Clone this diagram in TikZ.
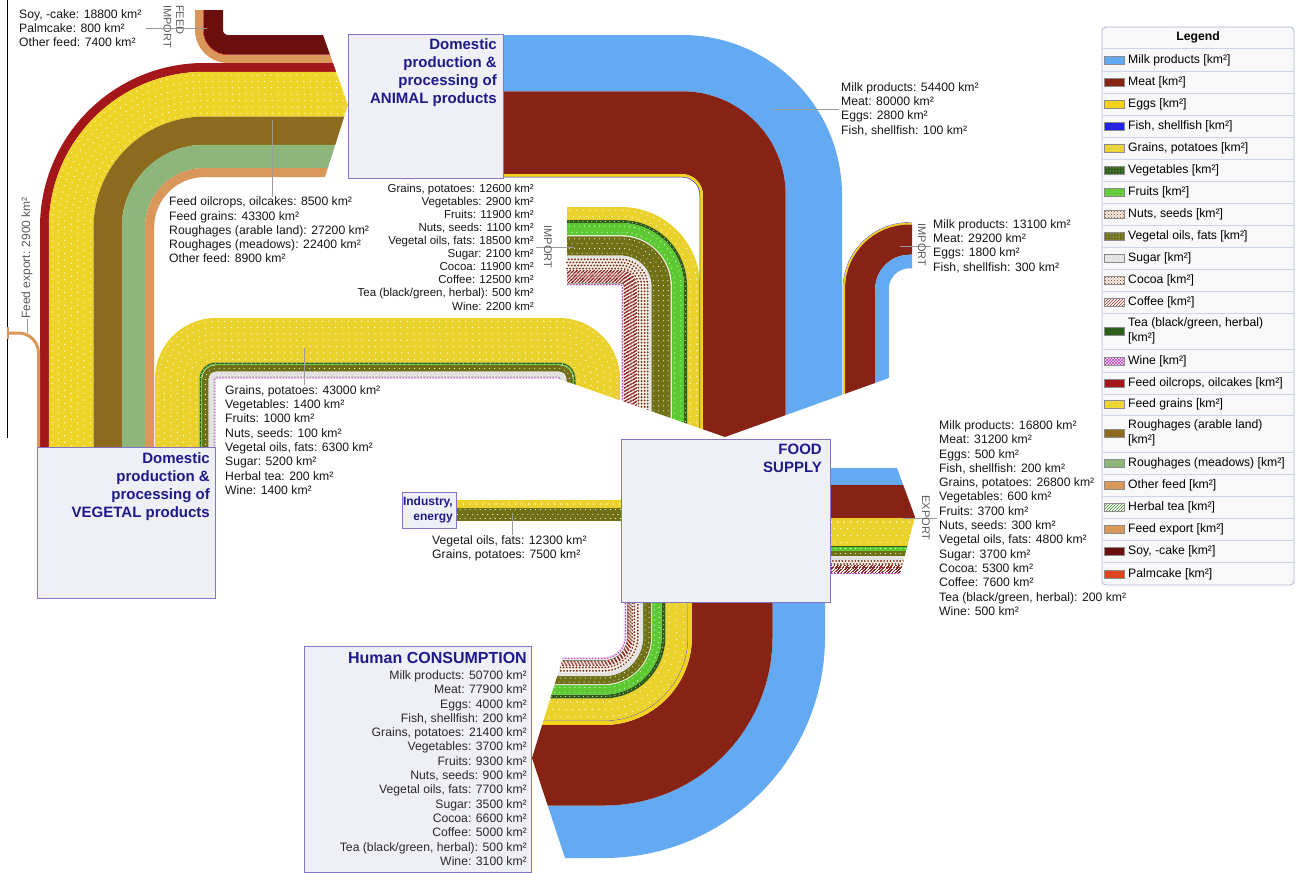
\documentclass[tikz,border=0pt]{standalone}
\usepackage{fontspec}
\setmainfont{Liberation Sans}
\usepackage{tikz}
\usetikzlibrary{patterns}
\definecolor{milkc}{HTML}{63AAF3}
\definecolor{meatc}{HTML}{872314}
\definecolor{eggsc}{HTML}{F3D21E}
\definecolor{fishc}{HTML}{2323E6}
\definecolor{grainc}{HTML}{EBD12C}
\definecolor{vegc}{HTML}{2E5B17}
\definecolor{fruitc}{HTML}{5CC832}
\definecolor{nutc}{HTML}{F2ECE4}
\definecolor{oilc}{HTML}{707016}
\definecolor{sugarc}{HTML}{E0E0E0}
\definecolor{cocoac}{HTML}{F6EEE8}
\definecolor{coffeec}{HTML}{FFFFFF}
\definecolor{teac}{HTML}{2D5F1A}
\definecolor{winec}{HTML}{F2E8F2}
\definecolor{herbc}{HTML}{3E8E2E}
\definecolor{herbswc}{HTML}{FFFFFF}
\definecolor{foilc}{HTML}{A3161A}
\definecolor{fgrainc}{HTML}{EFD428}
\definecolor{rarabc}{HTML}{8C6B1E}
\definecolor{rmeadc}{HTML}{8EB67B}
\definecolor{ofeedc}{HTML}{D9975A}
\definecolor{fexpc}{HTML}{D9975A}
\definecolor{soyc}{HTML}{6A0E0E}
\definecolor{palmc}{HTML}{E0441E}
\definecolor{nutdot}{HTML}{8B4A22}
\definecolor{cocoadot}{HTML}{7A3414}
\definecolor{coffeedot}{HTML}{8E2B22}
\definecolor{winedot}{HTML}{C23CC2}
\definecolor{navyc}{HTML}{1F1A8A}
\definecolor{boxln}{HTML}{8376C9}
\definecolor{boxbg}{HTML}{EFEFF6}
\definecolor{leadc}{HTML}{9A9A9A}
\definecolor{tagc}{HTML}{5A5A5A}
\definecolor{txtc}{HTML}{151515}
\definecolor{humtxt}{HTML}{2A2A2A}
\definecolor{legln}{HTML}{A9B7CF}
\definecolor{legsepc}{HTML}{CBD5E5}
\definecolor{legbg}{HTML}{F8F8F8}
\tikzset{
  box/.style={draw=boxln,fill=boxbg,line width=1pt,inner sep=0pt,outer sep=0pt},
  ttl/.style={font=\fontsize{15}{18}\selectfont\bfseries,text=navyc,align=right,inner sep=0pt},
  lbl/.style={font=\fontsize{12.2}{14.3}\selectfont,text=txtc,align=left,inner sep=0pt},
  tagtxt/.style={font=\fontsize{11}{12.5}\selectfont,text=tagc,inner sep=0pt},
  lead/.style={draw=leadc,line width=0.8pt},
  legbox/.style={draw=legln,fill=legbg,line width=0.8pt,rounded corners=4pt,inner sep=0pt},
  legsep/.style={draw=legsepc,line width=0.6pt},
  legtxt/.style={font=\fontsize{12.2}{15}\selectfont,align=left,inner sep=0pt},
  swline/.style={draw=black!45,line width=0.5pt}
}
\newcommand\feedpath[1]{(40+#1,452) -- (40+#1,227.2) arc[start angle=180,end angle=270,radius=164.2-#1] -- (352,63+#1)}
\newcommand\fimpath[1]{(195+#1,10) -- (195+#1,30) arc[start angle=180,end angle=90,radius=33-#1] -- (352,63-#1)}
\newcommand\vdompath[1]{(155+#1,452) -- (155+#1,379) arc[start angle=180,end angle=270,radius=61-#1] -- (559,318+#1) arc[start angle=270,end angle=360,radius=61-#1] -- (620-#1,470)}
\newcommand\vimppath[1]{(567,207+#1) -- (621,207+#1) arc[start angle=270,end angle=360,radius=79-#1] -- (700-#1,470)}
\newcommand\aoutpath[1]{(501,35+#1) -- (682,35+#1) arc[start angle=270,end angle=360,radius=160-#1] -- (842-#1,470)}
\newcommand\aimppath[1]{(912,222.3+#1) -- (909.5,222.3+#1) arc[start angle=270,end angle=180,radius=66.7-#1] -- (842.8+#1,470)}
\newcommand\conspath[1]{(825-#1,600) -- (825-#1,637) arc[start angle=0,end angle=90,radius=221-#1] -- (515,858-#1)}
\newcommand\exppath[1]{(828,468+#1) -- (920,468+#1)}
\newcommand\indpath[1]{(623,500+#1) -- (457,500+#1)}
\newcommand\dotrows[6]{%
  \pgfmathsetmacro\sdw{#3-#2}%
  \pgfmathtruncatemacro\sok{\sdw>(#5+0.4)}%
  \ifnum\sok=1
  \pgfmathtruncatemacro\snr{max(1,round(\sdw/#6))}%
  \pgfmathsetmacro\sgp{\sdw/\snr}%
  \foreach \k in {1,...,\snr}{%
    \pgfmathsetmacro\sdd{#2+(\k-0.5)*\sgp}%
    \pgfmathsetmacro\sph{mod(\k,2)*#6/2}%
    \draw[draw=#4,line width=#5pt,line cap=round,dash pattern=on 0.01pt off #6pt,dash phase=\sph pt] #1{\sdd};}%
  \fi}
\newcommand\hatchrows[4]{%
  \pgfmathsetmacro\sdw{#3-#2}%
  \pgfmathtruncatemacro\snr{max(1,round(\sdw/1.1))}%
  \pgfmathsetmacro\sgp{\sdw/\snr}%
  \pgfmathsetmacro\slw{\sgp+0.15}%
  \foreach \k in {1,...,\snr}{%
    \pgfmathsetmacro\sdd{#2+(\k-0.5)*\sgp}%
    \pgfmathsetmacro\sph{\k*\sgp}%
    \draw[draw=#4,line width=\slw pt,dash pattern=on 1.7pt off 1.7pt,dash phase=\sph pt] #1{\sdd};}}
\newcommand\nopat[3]{}
\let\patmilk\nopat \let\patmeat\nopat \let\pateggs\nopat \let\patfish\nopat
\let\pattea\nopat \let\patherb\nopat \let\patfoil\nopat \let\patrarab\nopat
\let\patrmead\nopat \let\patofeed\nopat \let\patfexp\nopat \let\patsoy\nopat \let\patpalm\nopat
\newcommand\patgrain[3]{\dotrows{#1}{#2}{#3}{white}{1.3}{6.5}}
\newcommand\patfgrain[3]{\dotrows{#1}{#2}{#3}{white}{1.3}{6.5}}
\newcommand\patveg[3]{\dotrows{#1}{#2}{#3}{white}{0.9}{4.5}}
\newcommand\patfruit[3]{\dotrows{#1}{#2}{#3}{white}{1.1}{5}}
\newcommand\patoil[3]{\dotrows{#1}{#2}{#3}{white}{1.1}{5}}
\newcommand\patsugar[3]{\dotrows{#1}{#2}{#3}{white}{1}{3.5}}
\newcommand\patnut[3]{\dotrows{#1}{#2}{#3}{nutdot}{1.4}{3.5}}
\newcommand\patcocoa[3]{\dotrows{#1}{#2}{#3}{cocoadot}{2.1}{3.2}}
\newcommand\patcoffee[3]{\hatchrows{#1}{#2}{#3}{coffeedot}}
\newcommand\patwine[3]{%
  \pgfmathsetmacro\sdd{(#2+#3)/2}%
  \draw[draw=winedot,line width=1.1pt,dash pattern=on 1.5pt off 1.5pt] #1{\sdd};}
\newcommand\band[4]{%
  \pgfmathsetmacro\sbw{max(#3-#2,0.45)}%
  \pgfmathsetmacro\sbm{(#2+#3)/2}%
  \draw[draw=#4c,line width=\sbw pt] #1{\sbm};%
  \csname pat#4\endcsname{#1}{#2}{#3}}
\begin{document}
\begin{tikzpicture}[x=1pt,y=-1pt]
\useasboundingbox (0,0) rectangle (1299,873);
\draw[line width=1pt] (7,0) -- (7,438);
\begin{scope}
\clip (0,0) -- (323,0) -- (323,35) -- (348,105) -- (325,177) -- (325,470) -- (0,470) -- cycle;
\foreach \fa/\fb/\fk in {0/7.7/ofeed,7.7/8.5/palm,8.5/28/soy}{\band\fimpath{\fa}{\fb}{\fk}}
\foreach \fa/\fb/\fk in {0/8.8/foil,8.8/53.6/fgrain,53.6/81.8/rarab,81.8/105/rmead,105/114.2/ofeed}{\band\feedpath{\fa}{\fb}{\fk}}
\end{scope}
\draw[draw=fexpc,line width=3pt] (38.5,452) -- (38.5,353) arc[start angle=0,end angle=-90,radius=20] -- (8,333);
\draw[draw=fexpc,line width=1.5pt] (8,327) -- (8,339);
\begin{scope}
\clip (0,0) -- (1299,0) -- (1299,338) -- (1000,338) -- (725,437) -- (555,377.5) -- (555,470) -- (0,470) -- cycle;
\foreach \fa/\fb/\fk in {0/44.5/grain,44.5/46/veg,46/47/fruit,47/47.2/nut,47.2/53.6/oil,53.6/59/sugar,59/59.2/herb,59.2/60.6/wine}{\band\vdompath{\fa}{\fb}{\fk}}
\foreach \fa/\fb/\fk in {0/13/grain,13/16/veg,16/28.3/fruit,28.3/29.4/nut,29.4/48.6/oil,48.6/50.8/sugar,50.8/63.1/cocoa,63.1/76/coffee,76/76.5/tea,76.5/78.8/wine}{\band\vimppath{\fa}{\fb}{\fk}}
\foreach \fa/\fb/\fk in {0/56.3/milk,56.3/139.1/meat,139.1/142/eggs,142/142.3/fish}{\band\aoutpath{\fa}{\fb}{\fk}}
\foreach \fa/\fb/\fk in {0/0.4/fish,0.4/2.2/eggs,2.2/32.4/meat,32.4/46/milk}{\band\aimppath{\fa}{\fb}{\fk}}
\end{scope}
\foreach \fa/\fb/\fk in {0/7.8/grain,7.8/20.5/oil}{\band\indpath{\fa}{\fb}{\fk}}
\begin{scope}
\clip (828,440) -- (897,440) -- (897,468) -- (915,517) -- (900,574) -- (900,600) -- (828,600) -- cycle;
\foreach \fa/\fb/\fk in {0/17.4/milk,17.4/49.7/meat,49.7/50.2/eggs,50.2/50.4/fish,50.4/78.1/grain,78.1/78.7/veg,78.7/82.6/fruit,82.6/82.9/nut,82.9/87.9/oil,87.9/91.7/sugar,91.7/97.2/cocoa,97.2/105.1/coffee,105.1/105.3/tea,105.3/105.8/wine}{\band\exppath{\fa}{\fb}{\fk}}
\end{scope}
\begin{scope}
\clip (563,598) -- (563,657) -- (532,758) -- (565,858) -- (565,873) -- (1000,873) -- (1000,598) -- cycle;
\foreach \fa/\fb/\fk in {0/52.5/milk,52.5/133.1/meat,133.1/137.2/eggs,137.2/137.4/fish,137.4/159.6/grain,159.6/163.4/veg,163.4/173/fruit,173/173.9/nut,173.9/181.9/oil,181.9/185.5/sugar,185.5/192.3/cocoa,192.3/197.5/coffee,197.5/198/tea,198/201.3/wine}{\band\conspath{\fa}{\fb}{\fk}}
\end{scope}
\node[box,minimum width=155pt,minimum height=144pt] (animal) at (425.5,106) {};
\node[ttl,anchor=north east] (animalttl) at (497,38) {Domestic\\production \&\\processing of\\ANIMAL products};
\node[box,minimum width=178pt,minimum height=151pt] (vegetal) at (126,522.5) {};
\node[ttl,anchor=north east] (vegetalttl) at (210,452) {Domestic\\production \&\\processing of\\VEGETAL products};
\node[box,minimum width=209pt,minimum height=163pt] (food) at (725.5,520.5) {};
\node[ttl,anchor=north east] (foodttl) at (822,444) {FOOD\\SUPPLY};
\node[box,minimum width=54pt,minimum height=36pt] (industry) at (429,510) {};
\node[ttl,font=\fontsize{12}{15}\selectfont\bfseries,anchor=north east] (industryttl) at (453,497) {Industry,\\energy};
\node[box,minimum width=227pt,minimum height=226pt] (human) at (417.5,759) {};
\node[ttl,font=\fontsize{16}{18}\selectfont\bfseries,anchor=north east] (humanttl) at (527,652) {Human CONSUMPTION};
\node[lbl,text=humtxt,align=right,anchor=east] (humlist) at (527,768) {Milk products: 50700 km²\\Meat: 77900 km²\\Eggs: 4000 km²\\Fish, shellfish: 200 km²\\Grains, potatoes: 21400 km²\\Vegetables: 3700 km²\\Fruits: 9300 km²\\Nuts, seeds: 900 km²\\Vegetal oils, fats: 7700 km²\\Sugar: 3500 km²\\Cocoa: 6600 km²\\Coffee: 5000 km²\\Tea (black/green, herbal): 500 km²\\Wine: 3100 km²};
\node[lbl,anchor=west] (lblfi) at (19,28) {Soy, -cake: 18800 km²\\Palmcake: 800 km²\\Other feed: 7400 km²};
\node[tagtxt,rotate=-90,anchor=west,align=left] (tfi) at (173.5,5) {FEED\\IMPORT};
\coordinate (cfi) at (207,28);
\draw[lead] ([xshift=4pt]lblfi.east) -- (cfi);
\node[lbl,anchor=west] (lblfeed) at (169,230) {Feed oilcrops, oilcakes: 8500 km²\\Feed grains: 43300 km²\\Roughages (arable land): 27200 km²\\Roughages (meadows): 22400 km²\\Other feed: 8900 km²};
\coordinate (cfd) at (272,120);
\draw[lead] (cfd) -- (cfd |- lblfeed.north);
\node[lbl,text=tagc,font=\fontsize{12}{14}\selectfont,rotate=90] (lblfx) at (27,258) {Feed export: 2900 km²};
\coordinate (cfx) at (27,333);
\draw[lead] (lblfx.west) -- (cfx);
\node[lbl,font=\fontsize{11.5}{13.1}\selectfont,align=right,anchor=east] (lblvi) at (534,247) {Grains, potatoes: 12600 km²\\Vegetables: 2900 km²\\Fruits: 11900 km²\\Nuts, seeds: 1100 km²\\Vegetal oils, fats: 18500 km²\\Sugar: 2100 km²\\Cocoa: 11900 km²\\Coffee: 12500 km²\\Tea (black/green, herbal): 500 km²\\Wine: 2200 km²};
\coordinate (cvi) at (574,247);
\draw[lead] ([xshift=2pt]lblvi.east) -- (cvi);
\node[tagtxt,rotate=-90] (tvi) at (548,247) {IMPORT};
\node[lbl,anchor=west] (lblao) at (841,109) {Milk products: 54400 km²\\Meat: 80000 km²\\Eggs: 2800 km²\\Fish, shellfish: 100 km²};
\coordinate (cao) at (773,109);
\draw[lead] (cao) -- ([xshift=-2pt]lblao.west);
\node[lbl,anchor=west] (lblai) at (933,246) {Milk products: 13100 km²\\Meat: 29200 km²\\Eggs: 1800 km²\\Fish, shellfish: 300 km²};
\coordinate (cai) at (900,246);
\draw[lead] (cai) -- ([xshift=-2pt]lblai.west);
\node[tagtxt,rotate=-90] (tai) at (922,245) {IMPORT};
\node[lbl,anchor=west] (lblvd) at (225,440) {Grains, potatoes: 43000 km²\\Vegetables: 1400 km²\\Fruits: 1000 km²\\Nuts, seeds: 100 km²\\Vegetal oils, fats: 6300 km²\\Sugar: 5200 km²\\Herbal tea: 200 km²\\Wine: 1400 km²};
\coordinate (cvd) at (304,348);
\draw[lead] (cvd) -- (cvd |- lblvd.north);
\node[lbl,anchor=west] (lblind) at (432,548) {Vegetal oils, fats: 12300 km²\\Grains, potatoes: 7500 km²};
\coordinate (cind) at (512,513);
\draw[lead] (cind) -- (cind |- lblind.north);
\node[lbl,anchor=west] (lblex) at (939,518) {Milk products: 16800 km²\\Meat: 31200 km²\\Eggs: 500 km²\\Fish, shellfish: 200 km²\\Grains, potatoes: 26800 km²\\Vegetables: 600 km²\\Fruits: 3700 km²\\Nuts, seeds: 300 km²\\Vegetal oils, fats: 4800 km²\\Sugar: 3700 km²\\Cocoa: 5300 km²\\Coffee: 7600 km²\\Tea (black/green, herbal): 200 km²\\Wine: 500 km²};
\coordinate (cex) at (903,518);
\draw[lead] (cex) -- ([xshift=-2pt]lblex.west);
\node[tagtxt,rotate=-90] (tex) at (926,518) {EXPORT};
\node[legbox,minimum width=192pt,minimum height=558pt] (legend) at (1198,306) {};
\node[font=\fontsize{12.2}{14}\selectfont\bfseries,inner sep=0pt] (legttl) at (1198,37) {Legend};
\foreach \sy in {48,71,93,115,137,159,181,203,225,247,269,291,313,349,372,394,415,452,474,496,518,540,562}{\draw[legsep] (1102.5,\sy) -- (1293.5,\sy);}
\foreach \ly/\lk/\lp/\lq/\lt in {60/milk/dots/milkc/{Milk products [km²]},82/meat/dots/meatc/{Meat [km²]},104/eggs/dots/eggsc/{Eggs [km²]},126/fish/dots/fishc/{Fish, shellfish [km²]},148/grain/dots/white/{Grains, potatoes [km²]},170/veg/dots/white/{Vegetables [km²]},192/fruit/dots/white/{Fruits [km²]},214/nut/crosshatch dots/nutdot/{Nuts, seeds [km²]},236/oil/dots/white/{Vegetal oils, fats [km²]},258/sugar/crosshatch dots/white/{Sugar [km²]},280/cocoa/crosshatch dots/cocoadot/{Cocoa [km²]},302/coffee/north east lines/coffeedot/{Coffee [km²]},331/tea/dots/teac/{Tea (black/green, herbal)\\{[km²]}},361/wine/crosshatch/winedot/{Wine [km²]},383/foil/dots/foilc/{Feed oilcrops, oilcakes [km²]},404/fgrain/dots/white/{Feed grains [km²]},433/rarab/dots/rarabc/{Roughages (arable land)\\{[km²]}},463/rmead/dots/rmeadc/{Roughages (meadows) [km²]},485/ofeed/dots/ofeedc/{Other feed [km²]},507/herbsw/north east lines/herbc/{Herbal tea [km²]},529/fexp/dots/fexpc/{Feed export [km²]},551/soy/dots/soyc/{Soy, -cake [km²]},574/palm/dots/palmc/{Palmcake [km²]}}{
\fill[fill=\lk c] (1104,\ly-4) rectangle (1124,\ly+4);
\fill[pattern=\lp,pattern color=\lq] (1104,\ly-4) rectangle (1124,\ly+4);
\draw[swline] (1104,\ly-4) rectangle (1124,\ly+4);
\node[legtxt,anchor=west] (leg\lk) at (1128,\ly) {\lt};}
\end{tikzpicture}
\end{document}
